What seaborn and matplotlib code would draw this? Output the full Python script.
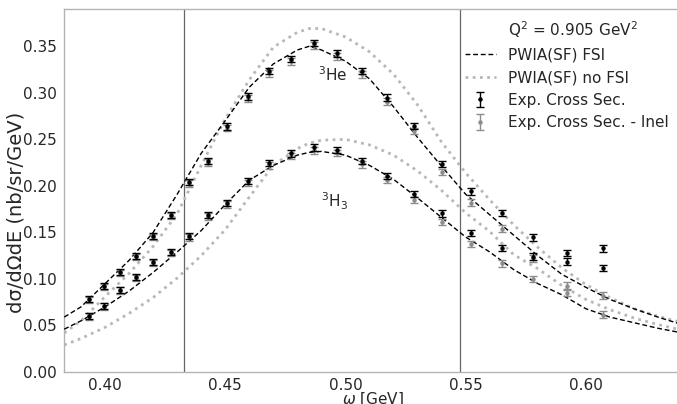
import numpy as np
import pandas as pd
import matplotlib
matplotlib.use("Agg")
import matplotlib.pyplot as plt
import seaborn as sns
from matplotlib.lines import Line2D

# ---- theory curves (omega in GeV) ----
omega_curve = [0.383, 0.39, 0.40, 0.41, 0.42, 0.43, 0.44, 0.45, 0.46, 0.47, 0.48, 0.485,
               0.49, 0.50, 0.51, 0.52, 0.53, 0.54, 0.55, 0.56, 0.57, 0.58, 0.59, 0.60,
               0.61, 0.62, 0.63, 0.64]
he_fsi = [0.059, 0.070, 0.095, 0.120, 0.150, 0.191, 0.235, 0.270, 0.306, 0.331, 0.346, 0.350,
          0.346, 0.334, 0.315, 0.285, 0.252, 0.221, 0.191, 0.169, 0.147, 0.125, 0.105, 0.091,
          0.078, 0.068, 0.059, 0.051]
he_nofsi = [0.042, 0.055, 0.081, 0.106, 0.135, 0.170, 0.222, 0.272, 0.314, 0.349, 0.365, 0.369,
            0.369, 0.360, 0.344, 0.320, 0.287, 0.247, 0.214, 0.185, 0.158, 0.134, 0.112, 0.094,
            0.080, 0.068, 0.060, 0.053]
h3_fsi = [0.046, 0.055, 0.070, 0.087, 0.107, 0.129, 0.152, 0.180, 0.206, 0.222, 0.233, 0.236,
          0.237, 0.233, 0.222, 0.207, 0.187, 0.166, 0.145, 0.129, 0.110, 0.095, 0.083, 0.068,
          0.059, 0.053, 0.047, 0.042]
h3_nofsi = [0.029, 0.036, 0.048, 0.063, 0.080, 0.101, 0.125, 0.153, 0.188, 0.222, 0.240, 0.246,
            0.249, 0.250, 0.244, 0.233, 0.216, 0.195, 0.171, 0.151, 0.126, 0.111, 0.093, 0.078,
            0.067, 0.058, 0.051, 0.045]

# ---- experimental points ----
omega_exp = [0.3933, 0.3996, 0.4063, 0.4129, 0.4200, 0.4275, 0.4350, 0.4429, 0.4508, 0.4596,
             0.4683, 0.4774, 0.4868, 0.4965, 0.5070, 0.5174, 0.5285, 0.5403, 0.5524, 0.5650,
             0.5782, 0.5922, 0.6070]
he_exp = [0.0786, 0.0925, 0.1076, 0.1247, 0.1460, 0.1686, 0.2040, 0.2265, 0.2640, 0.2960,
          0.3232, 0.3365, 0.3537, 0.3422, 0.3233, 0.2947, 0.2643, 0.2233, 0.1940, 0.1707,
          0.1447, 0.1279, 0.1329]
he_exp_inel = [0.0776, 0.0915, 0.1066, 0.1237, 0.1448, 0.1674, 0.2026, 0.2250, 0.2622, 0.2940,
               0.3208, 0.3338, 0.3508, 0.3390, 0.3198, 0.2905, 0.2590, 0.2150, 0.1820, 0.1540,
               0.1220, 0.0929, 0.0821]
h3_exp = [0.0603, 0.0711, 0.0882, 0.1022, 0.1183, 0.1290, 0.1460, 0.1686, 0.1815, 0.2051,
          0.2243, 0.2350, 0.2412, 0.2386, 0.2268, 0.2107, 0.1911, 0.1704, 0.1493, 0.1332,
          0.1239, 0.1186, 0.1118]
h3_exp_inel = [0.0596, 0.0703, 0.0873, 0.1012, 0.1172, 0.1278, 0.1446, 0.1670, 0.1797, 0.2030,
               0.2219, 0.2323, 0.2382, 0.2353, 0.2232, 0.2065, 0.1850, 0.1614, 0.1375, 0.1168,
               0.1000, 0.0850, 0.0617]
exp_err = [0.0035] * len(omega_exp)

cut_lines = [0.433, 0.5475]

sns.set_style("white")
plt.rcParams['font.family'] = ['DejaVu Sans']

fig = plt.figure(figsize=(6.77, 4.04), dpi=100)
ax = fig.add_axes([64 / 677, 1 - 372 / 404, (681 - 64) / 677, (372 - 9) / 404])

curves = pd.DataFrame({"omega": omega_curve, "he_fsi": he_fsi, "he_nofsi": he_nofsi,
                       "h3_fsi": h3_fsi, "h3_nofsi": h3_nofsi})

dotted = (0, (1, 1.6))
dashed = (0, (3.5, 2))
for col in ["he_nofsi", "h3_nofsi"]:
    sns.lineplot(data=curves, x="omega", y=col, ax=ax, color="0.72", lw=2.0,
                 linestyle=dotted, sort=False, zorder=2)
for col in ["he_fsi", "h3_fsi"]:
    sns.lineplot(data=curves, x="omega", y=col, ax=ax, color="black", lw=1.0,
                 linestyle=dashed, sort=False, zorder=3)

for x in cut_lines:
    ax.axvline(x, color="0.4", lw=0.9, zorder=1)

eb_kw = dict(fmt="o", markersize=2.2, capsize=3, elinewidth=1.0, capthick=1.0)
for ys in (he_exp_inel, h3_exp_inel):
    eb_gray = ax.errorbar(omega_exp, ys, yerr=exp_err, color="0.55", zorder=4, **eb_kw)
for ys in (he_exp, h3_exp):
    eb_black = ax.errorbar(omega_exp, ys, yerr=exp_err, color="black", zorder=5, **eb_kw)

ax.text(0.4946, 0.320, r"$^3$He", fontsize=11, ha="center", va="center")
ax.text(0.4954, 0.183, r"$^3$H$_3$", fontsize=11, ha="center", va="center")

ax.set_xlim(0.3829, 0.6396)
ax.set_ylim(0.0, 0.39)
ax.set_xticks([0.40, 0.45, 0.50, 0.55, 0.60])
ax.set_yticks([0.00, 0.05, 0.10, 0.15, 0.20, 0.25, 0.30, 0.35])
ax.tick_params(labelsize=11, length=0)
ax.tick_params(axis="x", pad=4)
ax.tick_params(axis="y", pad=5)
ax.set_xlabel(r"$\omega$ [GeV]", fontsize=11, labelpad=-1.5)
ax.set_ylabel("dσ/dΩdE (nb/sr/GeV)", fontsize=14)
ax.yaxis.set_label_coords(-0.062, 0.44)
for s in ax.spines.values():
    s.set_color("0.7")
    s.set_linewidth(1.0)

handles = [Line2D([], [], linestyle="none", marker=None),
           Line2D([], [], color="black", lw=1.0, linestyle=dashed),
           Line2D([], [], color="0.72", lw=2.0, linestyle=dotted),
           eb_black, eb_gray]
labels = [r"Q$^2$ = 0.905 GeV$^2$", "PWIA(SF) FSI", "PWIA(SF) no FSI",
          "Exp. Cross Sec.", "Exp. Cross Sec. - Inel"]
ax.legend(handles, labels, loc="upper left", bbox_to_anchor=(459 / 677, 1 - 13 / 404),
          bbox_transform=fig.transFigure, borderaxespad=0, frameon=False, fontsize=11,
          labelspacing=0.5, handlelength=2.0)

fig.savefig("out.png", dpi=100)
